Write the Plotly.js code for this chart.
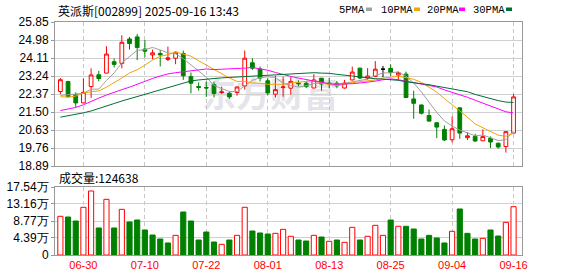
<!DOCTYPE html>
<html><head><meta charset="utf-8">
<script src="https://cdn.plot.ly/plotly-3.0.1.min.js"></script>
<style>html,body{margin:0;padding:0;background:#fff}#chart{width:578px;height:276px}</style>
</head><body><div id="chart"></div>
<script>
const dates = ['06-25','06-26','06-27','06-30','07-01','07-02','07-03','07-04','07-07','07-08',
  '07-09','07-10','07-11','07-14','07-15','07-16','07-17','07-18','07-21','07-22',
  '07-23','07-24','07-25','07-28','07-29','07-30','07-31','08-01','08-04','08-05',
  '08-06','08-07','08-08','08-11','08-12','08-13','08-14','08-15','08-18','08-19',
  '08-20','08-21','08-22','08-25','08-26','08-27','08-28','08-29','09-01','09-02',
  '09-03','09-04','09-05','09-08','09-09','09-10','09-11','09-12','09-15','09-16'];
const openP = [22.49,22.97,22.34,21.94,22.73,23.30,23.38,23.93,23.85,25.03,
  25.13,24.54,24.26,24.33,24.04,24.10,24.33,23.21,22.73,22.69,
  22.82,22.44,22.40,22.44,22.76,23.88,23.58,23.01,22.36,22.68,
  22.65,22.90,22.89,22.66,23.13,22.90,22.89,22.66,23.05,23.62,
  23.14,23.22,23.57,23.61,23.29,23.33,22.13,21.84,21.33,20.98,
  20.66,20.16,21.70,20.26,20.32,20.11,20.23,19.99,19.83,20.48];
const highP = [23.14,23.01,22.45,23.13,23.61,23.49,24.68,24.09,25.21,25.13,
  25.27,24.98,24.52,24.49,24.66,24.42,24.47,23.41,22.93,22.97,
  22.97,22.73,22.49,22.73,24.47,24.10,23.70,23.14,23.25,23.21,
  23.19,23.03,22.98,23.33,23.13,23.16,23.00,23.05,23.69,23.64,
  23.62,23.96,23.73,23.80,23.45,23.45,22.53,21.86,21.62,21.00,
  20.85,21.28,21.72,20.53,20.45,20.66,20.32,20.03,20.56,22.37];
const lowP = [22.36,22.20,21.73,21.92,22.18,22.98,23.38,23.65,23.61,24.52,
  24.01,24.14,24.05,23.70,23.96,23.81,23.05,22.40,22.53,22.23,
  22.20,22.37,22.13,22.29,22.58,23.53,22.98,22.31,22.20,22.24,
  22.34,22.74,22.66,22.65,22.53,22.65,22.65,22.63,23.03,23.09,
  23.06,23.18,23.18,23.24,23.03,22.18,21.17,21.38,21.04,20.24,
  20.10,20.03,20.20,20.15,20.05,20.10,19.76,19.73,19.54,20.47];
const closeP = [23.06,22.24,21.94,22.45,23.29,23.12,24.30,23.80,24.87,24.81,
  24.62,24.44,24.36,24.26,24.12,24.39,23.25,22.89,22.69,22.66,
  22.40,22.47,22.23,22.71,24.10,23.62,23.14,22.42,22.58,22.71,
  22.98,22.87,22.73,23.05,22.85,22.87,22.76,22.90,23.43,23.14,
  23.24,23.57,23.57,23.41,23.40,22.20,21.92,21.44,21.06,20.77,
  20.15,20.69,20.48,20.35,20.10,20.31,20.05,19.81,20.55,22.23];
const ma5 = [22.30,22.34,22.37,22.40,22.60,22.61,23.02,23.39,23.88,24.18,
  24.48,24.51,24.62,24.50,24.36,24.31,24.08,23.78,23.47,23.18,
  22.78,22.62,22.49,22.49,22.78,23.03,23.16,23.20,23.17,22.89,
  22.77,22.71,22.77,22.87,22.90,22.87,22.85,22.89,22.96,23.02,
  23.09,23.26,23.39,23.39,23.44,23.23,22.90,22.47,22.00,21.48,
  21.07,20.82,20.63,20.49,20.35,20.39,20.26,20.12,20.16,20.59];
const ma10 = [22.24,22.22,22.27,22.42,22.48,22.52,22.70,22.90,23.14,23.39,
  23.54,23.76,24.01,24.19,24.27,24.40,24.29,24.20,23.98,23.77,
  23.55,23.35,23.14,22.98,22.98,22.90,22.89,22.84,22.83,22.84,
  22.90,22.94,22.99,23.02,22.90,22.82,22.78,22.83,22.92,22.96,
  22.98,23.05,23.14,23.17,23.23,23.16,23.08,22.93,22.70,22.46,
  22.15,21.86,21.55,21.25,20.92,20.73,20.54,20.38,20.33,20.47];
const ma20 = [21.57,21.64,21.72,21.85,22.02,22.17,22.32,22.46,22.58,22.70,
  22.85,23.00,23.12,23.24,23.34,23.40,23.45,23.50,23.54,23.58,
  23.55,23.56,23.57,23.58,23.62,23.65,23.59,23.52,23.41,23.30,
  23.22,23.14,23.06,23.00,22.94,22.86,22.84,22.84,22.87,22.90,
  22.94,22.99,23.06,23.10,23.06,22.99,22.93,22.88,22.80,22.71,
  22.57,22.46,22.34,22.21,22.07,21.94,21.81,21.65,21.51,21.46];
const ma30 = [21.25,21.31,21.38,21.46,21.55,21.66,21.78,21.91,22.03,22.14,
  22.25,22.35,22.46,22.57,22.68,22.80,22.92,23.00,23.05,23.09,
  23.13,23.15,23.17,23.19,23.22,23.24,23.27,23.29,23.31,23.33,
  23.33,23.35,23.38,23.40,23.38,23.37,23.32,23.29,23.24,23.19,
  23.14,23.11,23.09,23.06,23.03,22.96,22.92,22.87,22.82,22.75,
  22.68,22.62,22.56,22.48,22.35,22.24,22.14,22.05,21.98,21.96];
// volume in 万 (10k shares)
const volume = [9.98,9.80,8.77,12.30,16.51,6.97,14.36,6.97,11.78,8.51,
  9.03,6.45,5.16,4.13,3.10,5.07,11.09,8.77,3.87,5.93,
  3.35,2.75,3.87,5.07,12.30,6.19,5.68,5.42,5.59,6.62,
  4.82,3.87,3.61,5.07,4.64,3.53,3.87,3.27,7.14,3.87,
  4.82,7.65,5.07,9.03,7.40,7.40,6.71,4.13,5.07,4.39,
  3.10,6.11,11.87,5.59,4.13,4.30,6.45,4.90,8.43,12.4638];
const volUp = [1,0,0,1,1,0,1,0,1,0, 0,0,0,0,0,1,0,0,0,0, 0,1,0,1,1,0,0,0,1,1,
  1,0,0,1,0,1,0,1,1,0, 1,1,1,0,1,0,0,0,0,0, 0,1,0,0,0,1,0,0,1,1];
const tickDates = ['06-30','07-10','07-22','08-01','08-13','08-25','09-04','09-16'];
const priceTicks = [18.89,19.76,20.63,21.50,22.37,23.24,24.11,24.98,25.85];
const priceTickText = ['18.89','19.76','20.63','21.50','22.37','23.24','24.11','24.98','25.85'];
const volTicks = [0,4.39,8.77,13.16,17.54];
const volTickText = ['0','4.39万','8.77万','13.16万','17.54万'];
const titleText = '英派斯[002899] 2025-09-16 13:43';
const volLabel = '成交量:124638';
const maNames = ['5PMA','10PMA','20PMA','30PMA'];

const RED = '#ff0000', GREEN = '#008000';
const maColors = ['#a0a0a0','#f5a300','#ff00ff','#006f36'];

// split doji candles (open == close) drawn in black
const idxMain = [], idxFlat = [];
dates.forEach((d,i)=> (openP[i]===closeP[i] ? idxFlat : idxMain).push(i));
const pick = (arr, idx) => idx.map(i => arr[i]);

const traces = [];
traces.push({type:'bar', x:dates, y:volume, xaxis:'x', yaxis:'y',
  marker:{color: volUp.map(u=>u?'#ffffff':GREEN), line:{color: volUp.map(u=>u?RED:GREEN), width:1}},
  hoverinfo:'skip', showlegend:false});
traces.push({type:'candlestick', x:pick(dates,idxMain), open:pick(openP,idxMain), high:pick(highP,idxMain),
  low:pick(lowP,idxMain), close:pick(closeP,idxMain), xaxis:'x2', yaxis:'y2',
  increasing:{line:{color:RED,width:1}, fillcolor:'#ffffff'},
  decreasing:{line:{color:GREEN,width:1}, fillcolor:GREEN},
  whiskerwidth:0, hoverinfo:'skip', showlegend:false});
traces.push({type:'candlestick', x:pick(dates,idxFlat), open:pick(openP,idxFlat), high:pick(highP,idxFlat),
  low:pick(lowP,idxFlat), close:pick(closeP,idxFlat), xaxis:'x2', yaxis:'y2',
  increasing:{line:{color:'#000',width:1}, fillcolor:'#000'},
  decreasing:{line:{color:'#000',width:1}, fillcolor:'#000'},
  whiskerwidth:0, hoverinfo:'skip', showlegend:false});
[ma5, ma10, ma20, ma30].forEach((m,k)=>{
  traces.push({type:'scatter', mode:'lines', x:dates, y:m, xaxis:'x2', yaxis:'y2',
    line:{color:maColors[k], width:1}, hoverinfo:'skip', showlegend:false});
});

const L = 55, R = 522, T = 22, B = 255, W = 578, H = 276;
const px = x => (x - L) / (R - L);
const py = y => (B - y) / (B - T);

const xBase = {type:'category', categoryorder:'array', categoryarray:dates, range:[-0.7, 60.1],
  tickvals:tickDates, ticktext:tickDates, showgrid:true, gridcolor:'#c8c8c8', griddash:'4px,3px', gridwidth:1,
  showline:true, linecolor:'#999', linewidth:1, mirror:true, ticks:'', zeroline:false, fixedrange:true,
  rangeslider:{visible:false}};

const annotations = [
  {text:titleText, xref:'paper', yref:'paper', x:px(56), y:py(10), xanchor:'left', yanchor:'middle',
   showarrow:false, font:{family:'Noto Sans CJK SC', size:12, color:'#000'}},
  {text:volLabel, xref:'paper', yref:'paper', x:px(57), y:py(177), xanchor:'left', yanchor:'middle',
   showarrow:false, font:{family:'Noto Sans CJK SC', size:12, color:'#000'}}
];
const legX = [337, 379, 425, 471];
const legRect = [366, 414, 459, 506];
const shapes = [
  {type:'rect', xref:'paper', yref:'paper', x0:px(190), x1:px(350), y0:py(112), y1:py(82), layer:'below',
   line:{width:0}, fillcolor:'rgba(0,0,0,0)',
   label:{text:'东方财富', font:{family:'Noto Sans CJK SC', size:34, color:'#e4e4ea', weight:'bold'}, textposition:'middle center'}}
];
maNames.forEach((n,k)=>{
  annotations.push({text:n, xref:'paper', yref:'paper', x:px(legX[k]), y:py(10), xanchor:'left', yanchor:'middle',
    showarrow:false, font:{family:'Liberation Mono', size:10.5, color:'#000'}});
  shapes.push({type:'rect', xref:'paper', yref:'paper', x0:px(legRect[k]), x1:px(legRect[k]+6),
    y0:py(11), y1:py(7.5), line:{width:0}, fillcolor:maColors[k]});
});

const layout = {
  width:W, height:H, margin:{l:L, r:W-R, t:T, b:H-B, pad:0},
  paper_bgcolor:'#fff', plot_bgcolor:'#fff', showlegend:false, hovermode:false, dragmode:false,
  boxgap:0.3, bargap:0.33,
  xaxis: Object.assign({}, xBase, {anchor:'y', domain:[0,1], showticklabels:true,
    tickfont:{family:'Liberation Sans, Arial', size:11, color:'#ff0000'}}),
  xaxis2: Object.assign({}, xBase, {anchor:'y2', domain:[0,1], showticklabels:false}),
  yaxis: {domain:[0, py(187)], range:[0, 17.54], tickvals:volTicks, ticktext:volTickText,
    showgrid:true, gridcolor:'#d0d0d0', showline:true, linecolor:'#999', mirror:true,
    ticks:'outside', ticklen:3, tickcolor:'#999', zeroline:false, fixedrange:true,
    tickfont:{family:'Liberation Sans, Arial', size:12, color:'#000'}},
  yaxis2: {domain:[py(166), 1], range:[18.89, 25.85], tickvals:priceTicks, ticktext:priceTickText,
    showgrid:true, gridcolor:'#d0d0d0', showline:true, linecolor:'#999', mirror:true,
    ticks:'outside', ticklen:3, tickcolor:'#999', zeroline:false, fixedrange:true,
    tickfont:{family:'Liberation Sans, Arial', size:12, color:'#000'}},
  annotations, shapes
};
Plotly.newPlot('chart', traces, layout, {staticPlot:true, displayModeBar:false});
</script></body></html>
